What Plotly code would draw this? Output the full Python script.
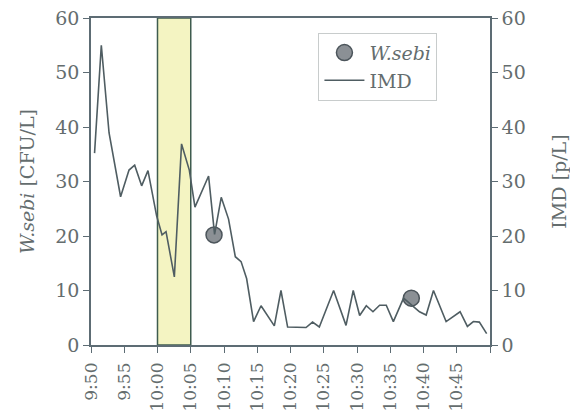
import plotly.graph_objects as go

DAY = "2000-01-01 "

# IMD particle counts [p/L], right axis
imd_time = ["09:50:32", "09:51:33", "09:52:43", "09:54:27", "09:55:43", "09:56:34",
            "09:57:37", "09:58:34", "09:59:52", "10:00:41", "10:01:17", "10:02:32",
            "10:03:37", "10:04:47", "10:05:38", "10:07:41", "10:08:35", "10:09:35",
            "10:10:41", "10:11:42", "10:12:34", "10:13:24", "10:14:27", "10:15:34",
            "10:17:34", "10:18:34", "10:19:34", "10:22:20", "10:23:19", "10:24:20",
            "10:26:29", "10:28:21", "10:29:26", "10:30:24", "10:31:24", "10:32:24",
            "10:33:24", "10:34:24", "10:35:28", "10:37:00", "10:39:24", "10:40:24",
            "10:41:30", "10:43:24", "10:45:30", "10:46:36", "10:47:30", "10:48:24",
            "10:49:30"]
imd_value = [35.2, 55.0, 38.9, 27.2, 32.1, 33.0,
             29.2, 32.0, 23.7, 20.2, 20.8, 12.5,
             36.9, 32.1, 25.3, 31.0, 20.3, 27.1,
             23.1, 16.2, 15.3, 12.2, 4.3, 7.2,
             3.5, 10.0, 3.3, 3.2, 4.2, 3.3,
             10.0, 3.6, 10.0, 5.4, 7.2, 6.1,
             7.3, 7.3, 4.3, 8.6, 6.1, 5.5,
             10.0, 4.3, 6.1, 3.4, 4.3, 4.2,
             2.1]

# W.sebi culture samples [CFU/L], left axis
sebi_time = ["10:08:30", "10:38:10"]
sebi_value = [20.2, 8.6]

# Highlighted interval
band_start = "10:00:00"
band_end = "10:05:00"

tick_times = ["09:50", "09:55", "10:00", "10:05", "10:10", "10:15", "10:20",
              "10:25", "10:30", "10:35", "10:40", "10:45", "10:50"]
tick_labels = ["9:50", "9:55", "10:00", "10:05", "10:10", "10:15", "10:20",
               "10:25", "10:30", "10:35", "10:40", "10:45", ""]

axis_col = "#5d6c74"
text_col = "#646d6e"
font_family = "DejaVu Serif"

fig = go.Figure()

fig.add_trace(go.Scatter(
    x=[DAY + t for t in imd_time], y=imd_value, yaxis="y2",
    mode="lines", name="IMD",
    line=dict(color="#4f5d62", width=1.6),
))

fig.add_trace(go.Scatter(
    x=[DAY + t for t in sebi_time], y=sebi_value, yaxis="y",
    mode="markers", name="<i>W.sebi</i>",
    marker=dict(size=16, color="#8b9095", line=dict(color="#4c555b", width=1.5)),
))

fig.add_shape(
    type="rect", xref="x", yref="y",
    x0=DAY + band_start, x1=DAY + band_end, y0=0, y1=60,
    fillcolor="#f4f4c2", line=dict(color="#3f5c4f", width=1.5), layer="below",
)

fig.update_layout(
    width=570, height=414,
    margin=dict(l=91, r=80, t=18, b=69),
    paper_bgcolor="white", plot_bgcolor="white",
    font=dict(family=font_family, size=19, color=text_col),
    showlegend=True,
    legend=dict(
        x=0.57, y=0.955, xanchor="left", yanchor="top",
        bgcolor="white", bordercolor="#c8cccc", borderwidth=1,
        font=dict(size=19, color=text_col),
        tracegroupgap=10, traceorder="reversed", itemwidth=40,
    ),
    xaxis=dict(
        type="date", automargin=False,
        range=[DAY + "09:50:00", DAY + "10:50:00"],
        tickvals=[DAY + t + ":00" for t in tick_times],
        ticktext=tick_labels,
        tickangle=-90,
        ticks="outside", ticklen=6, tickcolor=axis_col, tickwidth=1.2,
        showline=True, linecolor=axis_col, linewidth=1.5, mirror=True,
        showgrid=False, zeroline=False,
        ticklabelstandoff=3,
        tickfont=dict(size=17, color=text_col),
    ),
    yaxis=dict(
        automargin=False,
        range=[0, 60], tickvals=[0, 10, 20, 30, 40, 50, 60],
        ticks="outside", ticklen=6, tickcolor=axis_col, tickwidth=1.2,
        showline=True, linecolor=axis_col, linewidth=1.5,
        showgrid=False, zeroline=False,
        title=dict(text="<i>W.sebi</i> [CFU/L]", standoff=16,
                   font=dict(size=19, color=text_col)),
        tickfont=dict(size=19, color=text_col),
    ),
    yaxis2=dict(
        automargin=False,
        range=[0, 60], tickvals=[0, 10, 20, 30, 40, 50, 60],
        overlaying="y", side="right",
        ticks="outside", ticklen=6, tickcolor=axis_col, tickwidth=1.2,
        showline=True, linecolor=axis_col, linewidth=1.5,
        showgrid=False, zeroline=False,
        title=dict(text="IMD [p/L]", standoff=30,
                   font=dict(size=19, color=text_col)),
        tickfont=dict(size=19, color=text_col),
    ),
)

fig.write_html("out.html")
